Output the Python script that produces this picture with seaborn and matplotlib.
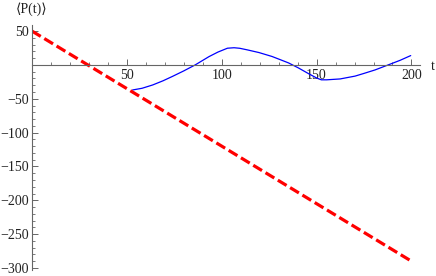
import matplotlib
matplotlib.use("Agg")
import matplotlib.pyplot as plt
import seaborn as sns
import numpy as np
import pandas as pd
from matplotlib.ticker import MultipleLocator

sns.set_theme(style="white")
plt.rcParams['font.family'] = ['Liberation Serif', 'DejaVu Serif', 'DejaVu Sans']

# data
blue_t = [53, 58, 63.6, 69, 74, 80, 86, 93.3, 98, 103, 106.5, 109.5, 113.4, 119.6, 126.5,
          131, 135.2, 140.4, 145.7, 150, 152.5, 155.3, 162.4, 170.3, 175, 180.8, 187.7, 194, 199.6]
blue_y = [-37, -34.5, -29.6, -23.5, -17, -8.8, 0, 12.3, 19, 24.7, 25.4, 24.6, 22.3, 18.3, 12.5,
          7.6, 3, -4.4, -12.8, -19.3, -22, -22, -20.7, -16.5, -12.5, -7.4, 0, 6.8, 13.8]
red_t = [0, 200]
red_y = [50, -290]

W, H = 436, 276
fig = plt.figure(figsize=(W / 100, H / 100), dpi=100)
ax = fig.add_axes([32 / W, (H - 270) / H, (420 - 32) / W, (270 - 25) / H])

df_b = pd.DataFrame({"t": blue_t, "P": blue_y})
df_r = pd.DataFrame({"t": red_t, "P": red_y})
sns.lineplot(data=df_b, x="t", y="P", ax=ax, color=(0, 0, 1), linewidth=0.9,
             estimator=None, sort=False)
sns.lineplot(data=df_r, x="t", y="P", ax=ax, color=(1, 0, 0), linewidth=2.3,
             estimator=None, sort=False)
ax.lines[-1].set_dashes((3.2, 1.3))
ax.lines[-1].set_dash_capstyle('butt')

ax.set_xlim(0, 204.5)
ax.set_ylim(-303, 59)
ax.set_xlabel("")
ax.set_ylabel("")

gray = "#666666"
for s in ["top", "right"]:
    ax.spines[s].set_visible(False)
ax.spines["bottom"].set_position(("data", 0))
ax.spines["left"].set_position(("data", 0))
for s in ["bottom", "left"]:
    ax.spines[s].set_color(gray)
    ax.spines[s].set_linewidth(0.8)

ax.xaxis.set_major_locator(MultipleLocator(50))
ax.xaxis.set_minor_locator(MultipleLocator(10))
ax.yaxis.set_major_locator(MultipleLocator(50))
ax.yaxis.set_minor_locator(MultipleLocator(10))
ax.tick_params(axis="both", which="major", direction="in", length=4, width=0.7,
               color=gray, labelsize=10, labelcolor="#222222", pad=3)
ax.tick_params(axis="both", which="minor", direction="in", length=2.2, width=0.6, color=gray)
ax.tick_params(axis="x", which="both", bottom=True, top=False)
ax.tick_params(axis="y", which="both", left=True, right=False, pad=2)

ax.set_xticks([50, 100, 150, 200])
ax.set_xticklabels(["50", "100", "150", "200"])
ax.set_yticks([50, -50, -100, -150, -200, -250, -300])
ax.set_yticklabels(["50", "\u221250", "\u2212100", "\u2212150", "\u2212200", "\u2212250", "\u2212300"])

fig.text(32 / W, 1 - 9 / H, "\u27e8P(t)\u27e9", ha="center", va="center", fontsize=10, color="#222222")
fig.text(433 / W, 1 - 66 / H, "t", ha="center", va="center", fontsize=10, color="#222222")

fig.savefig("out.png", dpi=100)
